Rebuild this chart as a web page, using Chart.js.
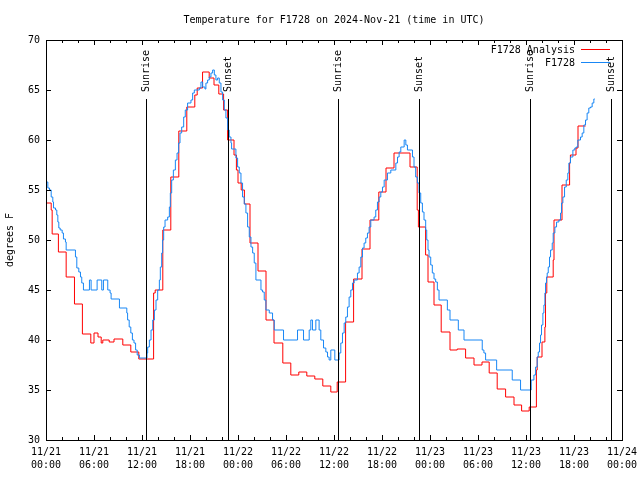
<!DOCTYPE html>
<html>
<head>
<meta charset="utf-8">
<script src="https://cdn.jsdelivr.net/npm/chart.js@4.4.1/dist/chart.umd.min.js"></script>
<style>
  html, body { margin: 0; padding: 0; background: #fff; }
</style>
</head>
<body>
<canvas id="chart" width="640" height="480"></canvas>
<script>
// hours since 2024-11-21 00:00 UTC
const analysisHours = [0, 0.65, 0.77, 1.55, 2.52, 3.56, 4.55, 5.6, 6.0, 6.5, 6.9, 7.1, 7.9, 8.5, 9.6,
    10.6, 11.6, 13.45, 13.65, 14.6, 15.6, 16.6, 17.6, 18.6, 18.9, 19.57, 20.4, 21.0, 21.6, 22.2, 22.7, 23.5,
    23.8, 24.0, 24.4, 24.8, 25.5, 26.5, 27.5, 28.5, 29.6, 30.6, 31.6, 32.6, 33.6, 34.6, 35.6,
    36.4, 37.45, 38.45, 39.5, 40.5, 41.6, 42.5, 43.5, 45.5, 46.4, 46.55, 47.45, 47.75, 48.5, 49.4,
    50.5, 51.4, 52.45, 53.5, 54.5, 55.4, 56.4, 57.45, 58.5, 59.45, 60.4, 61.3, 61.4, 62.0, 62.36,
    62.44, 62.6, 63.4, 63.5, 64.5, 65.45, 65.55, 66.25, 66.5, 67.45];
const analysisTemps = [53.7, 53.0, 50.6, 48.8, 46.3, 43.6, 40.6, 39.7, 40.7, 40.3, 39.7, 40.0, 39.8, 40.1, 39.5,
    38.8, 38.1, 44.7, 45.0, 51.0, 56.3, 60.9, 63.3, 64.5, 65.2, 66.8, 66.2, 65.5, 64.6, 63.0, 60.0, 58.5,
    57.0, 55.7, 55.0, 53.6, 49.7, 46.9, 42.0, 39.7, 37.7, 36.5, 36.8, 36.4, 36.1, 35.4, 34.8,
    35.8, 41.8, 46.1, 49.1, 52.0, 54.8, 57.2, 58.7, 57.3, 53.0, 51.3, 48.5, 45.8, 43.5, 40.8,
    39.0, 39.1, 38.2, 37.5, 37.8, 36.7, 35.1, 34.3, 33.5, 32.9, 33.3, 37.0, 38.3, 39.8, 41.3,
    44.7, 46.3, 48.0, 52.0, 55.5, 57.7, 58.5, 59.2, 61.4, 61.4];

const stationHours = [0, 0.23, 0.44, 0.65, 0.85, 0.94, 1.19, 1.35, 1.48, 1.6, 1.77, 2.02, 2.18, 2.43, 2.52,
    3.68, 3.85, 4.1, 4.31, 4.47, 4.68, 5.43, 5.64, 6.39, 6.97, 7.18, 7.72, 8.01, 8.14, 9.18,
    10.1, 10.2, 10.4, 10.6, 10.8, 11.0, 11.2, 11.4, 11.67, 12.63, 12.71, 12.92, 13.13, 13.34, 13.55,
    13.75, 13.96, 14.17, 14.29, 14.46, 14.58, 14.71, 14.88, 15.21, 15.42, 15.54, 15.71, 15.92, 16.17, 16.38,
    16.58, 16.75, 16.96, 17.21, 17.41, 17.7, 18.12, 18.33, 18.54, 19.16, 19.37, 19.58, 19.87, 19.99, 20.2,
    20.41, 20.62, 20.83, 21.04, 21.24, 21.45, 21.66, 21.87, 22.08, 22.29, 22.49, 22.7, 22.9, 23.12, 23.2,
    23.74, 23.95, 24.16, 24.37, 24.57, 24.78, 24.99, 25.2, 25.41, 25.62, 25.83, 26.03, 26.24, 26.87, 27.07,
    27.28, 27.49, 27.91, 28.32, 28.53, 29.69, 31.44, 32.19, 32.9, 33.1, 33.31, 33.73, 34.14, 34.35, 34.69,
    34.98, 35.19, 35.39, 35.6, 36.1, 36.64, 36.85, 37.06, 37.27, 37.47, 37.68, 37.89, 38.1, 38.31, 38.52,
    38.93, 39.14, 39.35, 39.56, 39.76, 39.97, 40.18, 40.39, 40.6, 41.01, 41.22, 41.43, 41.64, 41.85, 42.06,
    42.27, 42.68, 43.1, 43.73, 43.94, 44.14, 44.35, 44.77, 44.98, 45.18, 45.81, 46.0, 46.21, 46.42, 46.63,
    46.84, 47.05, 47.25, 47.46, 47.59, 47.75, 47.88, 48.09, 48.29, 48.5, 48.71, 48.92, 49.13, 50.17, 50.5,
    51.54, 52.25, 54.53, 54.74, 54.95, 56.33, 58.28, 59.32, 60.65, 60.99, 61.2, 61.4, 61.53, 61.69, 61.82,
    61.94, 62.11, 62.24, 62.36, 62.44, 62.57, 62.65, 62.78, 62.94, 63.07, 63.28, 63.4, 63.61, 63.82, 64.11,
    64.32, 64.44, 64.61, 64.82, 65.03, 65.23, 65.36, 65.56, 65.86, 66.1, 66.27, 66.48, 66.81, 67.02, 67.23,
    67.44, 67.64, 67.85, 68.06, 68.27, 68.48, 68.6];
const stationTemps = [55.8, 55.2, 55.0, 54.3, 53.8, 53.2, 53.0, 52.5, 51.8, 51.2, 51.0, 50.7, 50.1, 49.8, 49.0,
    48.3, 47.2, 46.8, 46.3, 45.7, 45.0, 46.0, 45.0, 46.0, 45.0, 46.0, 45.0, 44.7, 44.1, 43.2,
    42.7, 42.0, 41.3, 40.7, 40.0, 39.7, 39.0, 38.5, 38.2, 38.7, 39.3, 40.0, 41.0, 42.0, 43.0,
    44.0, 45.0, 46.0, 47.3, 48.7, 50.0, 51.3, 52.0, 52.3, 53.3, 54.7, 56.0, 57.0, 58.0, 58.7,
    59.7, 60.7, 61.3, 62.3, 63.0, 63.7, 64.0, 64.7, 65.0, 65.2, 65.8, 65.3, 65.1, 65.7, 66.0,
    66.3, 66.7, 67.0, 66.5, 66.0, 66.2, 65.7, 64.8, 64.0, 63.0, 62.2, 61.0, 60.3, 59.7, 59.1,
    58.2, 57.3, 56.7, 55.7, 54.3, 53.6, 52.7, 51.3, 50.3, 49.3, 48.7, 47.7, 46.0, 45.0, 44.8,
    44.0, 43.0, 42.7, 42.0, 41.0, 40.0, 41.0, 40.0, 41.0, 42.0, 41.0, 42.0, 41.0, 40.0, 39.2,
    38.8, 38.3, 38.0, 39.0, 38.0, 38.7, 39.7, 40.7, 41.7, 42.3, 43.3, 44.3, 45.0, 45.7, 46.0,
    46.7, 47.3, 48.3, 49.2, 49.7, 50.2, 50.7, 51.3, 52.0, 52.3, 53.0, 53.8, 54.3, 54.8, 55.3,
    56.0, 56.7, 57.0, 57.7, 58.3, 58.8, 59.3, 60.0, 59.5, 59.0, 58.3, 57.3, 56.3, 55.7, 54.7,
    53.7, 52.8, 52.0, 51.0, 50.0, 49.0, 48.3, 47.5, 46.7, 46.1, 45.8, 45.0, 44.0, 43.0, 42.0,
    41.0, 40.0, 39.0, 38.7, 38.0, 37.0, 36.0, 35.0, 36.0, 36.5, 37.3, 38.3, 38.8, 39.7, 40.5,
    41.5, 42.7, 43.5, 44.7, 45.7, 46.3, 46.7, 47.3, 48.3, 49.0, 49.7, 50.7, 51.3, 51.8, 52.0,
    52.7, 53.7, 54.3, 55.3, 56.0, 56.7, 57.7, 58.3, 59.0, 59.2, 59.3, 60.0, 60.3, 60.7, 61.5,
    62.0, 62.7, 63.2, 63.3, 63.7, 64.1, 64.1];

const sunHours = [12.52, 22.75, 36.55, 46.65, 60.5, 70.6];
const sunLabels = ['Sunrise', 'Sunset', 'Sunrise', 'Sunset', 'Sunrise', 'Sunset'];

const tickDates = ['11/21', '11/21', '11/21', '11/21', '11/22', '11/22', '11/22', '11/22',
    '11/23', '11/23', '11/23', '11/23', '11/24'];
const tickTimes = ['00:00', '06:00', '12:00', '18:00', '00:00', '06:00', '12:00', '18:00',
    '00:00', '06:00', '12:00', '18:00', '00:00'];

const FONT = "'DejaVu Sans Mono', 'Liberation Mono', monospace";
Chart.defaults.font.family = FONT;
Chart.defaults.font.size = 10;
Chart.defaults.color = '#000';

function toPoints(xs, ys) {
    return xs.map((x, i) => ({x: x, y: ys[i]}));
}

function line(ctx, x1, y1, x2, y2) {
    ctx.beginPath();
    ctx.moveTo(x1, y1);
    ctx.lineTo(x2, y2);
    ctx.stroke();
}

const decorations = {
    id: 'decorations',
    afterDatasetsDraw(chart) {
        const ctx = chart.ctx;
        const a = chart.chartArea;
        const x = chart.scales.x;
        const y = chart.scales.y;
        ctx.save();
        ctx.strokeStyle = '#000';
        ctx.fillStyle = '#000';
        ctx.lineWidth = 1;

        // frame
        ctx.strokeRect(a.left + 0.5, a.top + 0.5, a.right - a.left, a.bottom - a.top);

        // inward ticks, mirrored
        for (let h = 0; h <= 72; h += 2) {
            const px = Math.round(x.getPixelForValue(h)) + 0.5;
            const len = h % 6 === 0 ? 5 : 3;
            line(ctx, px, a.bottom, px, a.bottom - len);
            line(ctx, px, a.top, px, a.top + len);
        }
        for (let t = 30; t <= 70; t += 5) {
            const py = Math.round(y.getPixelForValue(t)) + 0.5;
            line(ctx, a.left, py, a.left + 5, py);
            line(ctx, a.right, py, a.right - 5, py);
        }

        // sunrise / sunset markers
        ctx.font = '10px ' + FONT;
        sunHours.forEach((h, i) => {
            const px = Math.round(x.getPixelForValue(h)) + 0.5;
            line(ctx, px, 99, px, a.bottom);
            ctx.save();
            ctx.translate(px, 92);
            ctx.rotate(-Math.PI / 2);
            ctx.textAlign = 'left';
            ctx.textBaseline = 'middle';
            ctx.fillText(sunLabels[i], 0, 0);
            ctx.restore();
        });

        // title
        ctx.textAlign = 'center';
        ctx.textBaseline = 'middle';
        ctx.fillText('Temperature for F1728 on 2024-Nov-21 (time in UTC)', (a.left + a.right) / 2, 20);

        // y axis title
        ctx.save();
        ctx.translate(10, (a.top + a.bottom) / 2);
        ctx.rotate(-Math.PI / 2);
        ctx.fillText('degrees F', 0, 0);
        ctx.restore();

        // legend
        ctx.textAlign = 'right';
        chart.data.datasets.forEach((ds, i) => {
            const ly = 50 + i * 13;
            ctx.fillStyle = '#000';
            ctx.fillText(ds.label, 575, ly);
            ctx.strokeStyle = ds.borderColor;
            line(ctx, 581, ly - 0.5, 610, ly - 0.5);
        });
        ctx.restore();
    }
};

new Chart(document.getElementById('chart').getContext('2d'), {
    type: 'line',
    data: {
        datasets: [{
            label: 'F1728 Analysis',
            data: toPoints(analysisHours, analysisTemps),
            borderColor: '#ff0000',
            borderWidth: 1,
            pointRadius: 0,
            stepped: true,
            order: 1,
        }, {
            label: 'F1728',
            data: toPoints(stationHours, stationTemps),
            borderColor: 'rgb(25,135,245)',
            borderWidth: 1,
            pointRadius: 0,
            stepped: true,
            order: 0,
        }]
    },
    options: {
        responsive: false,
        animation: false,
        layout: {padding: {top: 40, right: 18, left: 0, bottom: 0}},
        scales: {
            x: {
                type: 'linear',
                min: 0,
                max: 72,
                grid: {display: false, drawTicks: false},
                border: {display: false},
                ticks: {
                    stepSize: 6,
                    autoSkip: false,
                    maxRotation: 0,
                    padding: 6,
                    font: {lineHeight: 1.3},
                    callback: v => [tickDates[Math.round(v / 6)], tickTimes[Math.round(v / 6)]]
                },
                afterFit: s => {
                    s.height = 40;
                    s.paddingLeft = 0;
                    s.paddingRight = 0;
                }
            },
            y: {
                min: 30,
                max: 70,
                grid: {display: false, drawTicks: false},
                border: {display: false},
                ticks: {stepSize: 5, padding: 6},
                afterFit: s => { s.width = 46; }
            }
        },
        plugins: {
            legend: {display: false},
            tooltip: {enabled: false}
        }
    },
    plugins: [decorations]
});
</script>
</body>
</html>
